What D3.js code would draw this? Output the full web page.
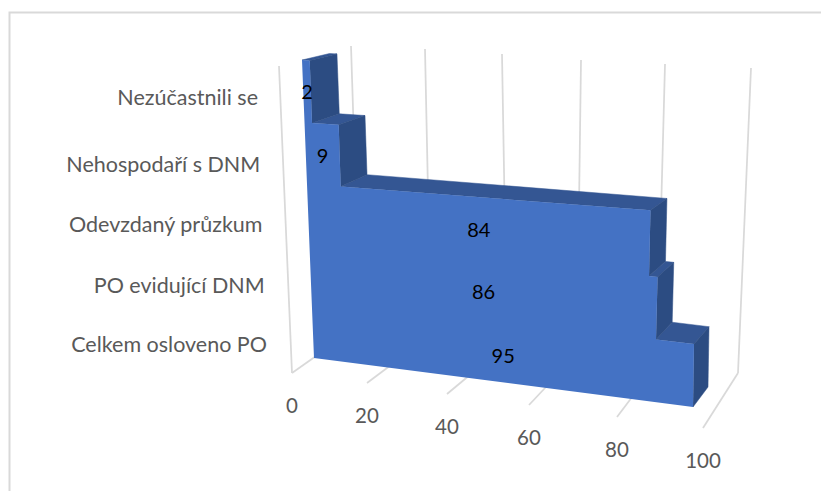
<!DOCTYPE html>
<html>
<head>
<meta charset="utf-8">
<script src="https://cdn.jsdelivr.net/npm/d3@7"></script>
<style>
  html, body { margin: 0; padding: 0; background: #fff; }
  svg { display: block; }
  text { font-family: Lato, "Open Sans", sans-serif; }
</style>
</head>
<body>
<div id="chart"></div>
<script>
// bottom row first
var categories = ['Celkem osloveno PO', 'PO evidující DNM', 'Odevzdaný průzkum', 'Nehospodaří s DNM', 'Nezúčastnili se'];
var values = [95, 86, 84, 9, 2];
var xTicks = [0, 20, 40, 60, 80, 100];

var width = 821,
  height = 491,
  frontColor = '#4472C4',
  sideColor = '#2C4C82',
  topColor = '#345693',
  gridColor = '#D9D9D9',
  textColor = '#595959';

var svg = d3.select('#chart')
  .append('svg')
  .attr('width', width)
  .attr('height', height);

// floor and back wall in perspective, one scale per edge
var floorFrontX = d3.scaleLinear().domain(xTicks).range([292, 367, 447, 529, 617, 703]);
var floorFrontY = d3.scaleLinear().domain(xTicks).range([373, 383, 394, 405, 417, 428]);
var floorBackX = d3.scaleLinear().domain(xTicks).range([360, 431, 507, 577, 657, 738]);
var floorBackY = d3.scaleLinear().domain(xTicks).range([325, 335, 344, 354, 364, 373]);
var wallTopX = d3.scaleLinear().domain(xTicks).range([351, 425, 502, 581, 665, 751]);
var wallTopY = d3.scaleLinear().domain(xTicks).range([46, 49, 54, 60, 64, 68]);

// front plane of the bars: v is the value, h counts rows from the bottom
var rowIdx = d3.range(categories.length + 1);
var maxVal = d3.max(values);
var bend = function(v) {
  return (floorFrontX(v) - floorFrontX(0)) / (floorFrontX(maxVal) - floorFrontX(0));
};
var leftX = d3.scaleLinear().domain(rowIdx).range([314, 311.6, 309.2, 306.8, 304.4, 302]);
var rightX = d3.scaleLinear().domain(rowIdx).range([693, 694, 696, 698, 700, 703]);
var leftY = d3.scaleLinear().domain(rowIdx).range([358, 299, 240, 184, 122.5, 60]);
var rightY = d3.scaleLinear().domain(rowIdx).range([407, 344, 281, 214, 148, 80]);
var depthX = d3.scaleLinear().domain([0, maxVal]).range([27.5, 15]);
var depthY = d3.scaleLinear().domain([0, 5]).range([-20, -6.5]);

function front(v, h) {
  var t = bend(v);
  return [leftX(h) + t * (rightX(h) - leftX(h)), leftY(h) + t * (rightY(h) - leftY(h))];
}
function back(v, h) {
  var p = front(v, h);
  return [p[0] + depthX(v), p[1] + depthY(h)];
}
var line = d3.line();

// frame
svg.append('path')
  .attr('d', 'M 9.5 ' + height + ' L 9.5 12.5 L ' + width + ' 12.5')
  .attr('fill', 'none')
  .attr('stroke', gridColor)
  .attr('stroke-width', 2);

// gridlines
var grid = svg.append('g')
  .attr('fill', 'none')
  .attr('stroke', gridColor)
  .attr('stroke-width', 1.75);

grid.selectAll('.floor')
  .data(xTicks)
  .join('line')
  .attr('class', 'floor')
  .attr('x1', function(d){ return floorFrontX(d); })
  .attr('y1', function(d){ return floorFrontY(d); })
  .attr('x2', function(d){ return floorBackX(d); })
  .attr('y2', function(d){ return floorBackY(d); });

grid.selectAll('.wall')
  .data(xTicks)
  .join('line')
  .attr('class', 'wall')
  .attr('x1', function(d){ return floorBackX(d); })
  .attr('y1', function(d){ return floorBackY(d); })
  .attr('x2', function(d){ return wallTopX(d); })
  .attr('y2', function(d){ return wallTopY(d); });

// side wall corner at zero
grid.append('line')
  .attr('x1', floorFrontX(0))
  .attr('y1', floorFrontY(0))
  .attr('x2', 279)
  .attr('y2', 66);

// step faces, top row first so lower rows paint over it
var rows = values.map(function(v, i){
  return {v: v, i: i, above: i + 1 < values.length ? values[i + 1] : 0};
}).reverse();

svg.append('g').selectAll('path')
  .data(rows)
  .join('path')
  .attr('fill', topColor)
  .attr('stroke', topColor)
  .attr('stroke-width', 0.5)
  .attr('d', function(d){
    var h = d.i + 1;
    return line([front(d.above, h), front(d.v, h), back(d.v, h), back(d.above, h)]) + 'Z';
  });

svg.append('g').selectAll('path')
  .data(rows)
  .join('path')
  .attr('fill', sideColor)
  .attr('stroke', sideColor)
  .attr('stroke-width', 0.5)
  .attr('d', function(d){
    return line([front(d.v, d.i), front(d.v, d.i + 1), back(d.v, d.i + 1), back(d.v, d.i)]) + 'Z';
  });

// front face as one outline, no seams between rows
var outline = [front(0, 0)];
values.forEach(function(v, i){
  outline.push(front(v, i));
  outline.push(front(v, i + 1));
});
outline.push(front(0, values.length));

svg.append('path')
  .attr('d', line(outline) + 'Z')
  .attr('fill', frontColor);

// category labels
var catRight = d3.scaleLinear().domain([0, 4]).range([267, 258]);
var catBase = d3.scaleLinear().domain([0, 1, 2, 3, 4]).range([352, 293, 232, 172, 105]);

svg.append('g').selectAll('text')
  .data(categories)
  .join('text')
  .attr('x', function(d, i){ return catRight(i); })
  .attr('y', function(d, i){ return catBase(i); })
  .attr('text-anchor', 'end')
  .attr('font-size', 21.5)
  .attr('fill', textColor)
  .text(function(d){ return d; });

// value axis labels sit under the front floor edge
svg.append('g').selectAll('text')
  .data(xTicks)
  .join('text')
  .attr('x', function(d){ return floorFrontX(d); })
  .attr('y', function(d){ return floorFrontY(d) + 39.5; })
  .attr('text-anchor', 'middle')
  .attr('font-size', 20.5)
  .attr('fill', textColor)
  .text(function(d){ return d; });

// data labels in the middle of each row
var labelDrop = d3.scaleLinear().domain([0, 4]).range([10.5, 7.5]);

svg.append('g').selectAll('text')
  .data(values)
  .join('text')
  .attr('x', function(d, i){ return (front(0, i + 0.5)[0] + front(d, i + 0.5)[0]) / 2; })
  .attr('y', function(d, i){ return (front(0, i + 0.5)[1] + front(d, i + 0.5)[1]) / 2 + labelDrop(i); })
  .attr('text-anchor', 'middle')
  .attr('font-size', 20)
  .attr('fill', '#000')
  .text(function(d){ return d; });
</script>
</body>
</html>
